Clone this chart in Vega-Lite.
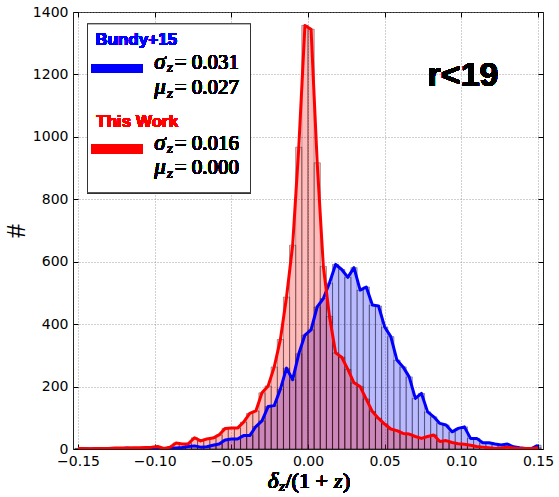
{
  "$schema": "https://vega.github.io/schema/vega-lite/v6.json",
  "width": 470,
  "height": 437,
  "autosize": "none",
  "padding": {"left": 73, "top": 12, "right": 16, "bottom": 48},
  "background": "white",
  "data": {
    "values": [
      {"dz": -0.150, "bundy": 0, "work": 2},
      {"dz": -0.146, "bundy": 1, "work": 2},
      {"dz": -0.142, "bundy": 0, "work": 1},
      {"dz": -0.138, "bundy": 1, "work": 2},
      {"dz": -0.134, "bundy": 2, "work": 2},
      {"dz": -0.130, "bundy": 1, "work": 2},
      {"dz": -0.126, "bundy": 0, "work": 3},
      {"dz": -0.122, "bundy": 1, "work": 3},
      {"dz": -0.118, "bundy": 3, "work": 3},
      {"dz": -0.114, "bundy": 1, "work": 4},
      {"dz": -0.110, "bundy": 1, "work": 4},
      {"dz": -0.106, "bundy": 2, "work": 5},
      {"dz": -0.102, "bundy": 2, "work": 6},
      {"dz": -0.098, "bundy": 2, "work": 8},
      {"dz": -0.094, "bundy": 0, "work": 2},
      {"dz": -0.090, "bundy": 3, "work": 6},
      {"dz": -0.086, "bundy": 3, "work": 19},
      {"dz": -0.082, "bundy": 5, "work": 16},
      {"dz": -0.078, "bundy": 8, "work": 17},
      {"dz": -0.074, "bundy": 10, "work": 36},
      {"dz": -0.070, "bundy": 6, "work": 26},
      {"dz": -0.066, "bundy": 7, "work": 32},
      {"dz": -0.062, "bundy": 12, "work": 35},
      {"dz": -0.058, "bundy": 16, "work": 45},
      {"dz": -0.054, "bundy": 29, "work": 66},
      {"dz": -0.050, "bundy": 32, "work": 67},
      {"dz": -0.046, "bundy": 32, "work": 67},
      {"dz": -0.042, "bundy": 43, "work": 86},
      {"dz": -0.038, "bundy": 43, "work": 114},
      {"dz": -0.034, "bundy": 72, "work": 122},
      {"dz": -0.030, "bundy": 90, "work": 180},
      {"dz": -0.026, "bundy": 136, "work": 202},
      {"dz": -0.022, "bundy": 139, "work": 263},
      {"dz": -0.018, "bundy": 192, "work": 351},
      {"dz": -0.014, "bundy": 259, "work": 487},
      {"dz": -0.010, "bundy": 222, "work": 653},
      {"dz": -0.006, "bundy": 305, "work": 967},
      {"dz": -0.002, "bundy": 365, "work": 1357},
      {"dz": 0.002, "bundy": 382, "work": 1345},
      {"dz": 0.006, "bundy": 455, "work": 917},
      {"dz": 0.010, "bundy": 482, "work": 585},
      {"dz": 0.014, "bundy": 532, "work": 425},
      {"dz": 0.018, "bundy": 591, "work": 308},
      {"dz": 0.022, "bundy": 575, "work": 294},
      {"dz": 0.026, "bundy": 550, "work": 255},
      {"dz": 0.030, "bundy": 581, "work": 212},
      {"dz": 0.034, "bundy": 509, "work": 200},
      {"dz": 0.038, "bundy": 519, "work": 160},
      {"dz": 0.042, "bundy": 461, "work": 120},
      {"dz": 0.046, "bundy": 458, "work": 98},
      {"dz": 0.050, "bundy": 391, "work": 80},
      {"dz": 0.054, "bundy": 360, "work": 64},
      {"dz": 0.058, "bundy": 285, "work": 59},
      {"dz": 0.062, "bundy": 263, "work": 50},
      {"dz": 0.066, "bundy": 231, "work": 48},
      {"dz": 0.070, "bundy": 162, "work": 40},
      {"dz": 0.074, "bundy": 178, "work": 34},
      {"dz": 0.078, "bundy": 119, "work": 40},
      {"dz": 0.082, "bundy": 103, "work": 45},
      {"dz": 0.086, "bundy": 82, "work": 24},
      {"dz": 0.090, "bundy": 77, "work": 27},
      {"dz": 0.094, "bundy": 55, "work": 21},
      {"dz": 0.098, "bundy": 66, "work": 17},
      {"dz": 0.102, "bundy": 71, "work": 15},
      {"dz": 0.106, "bundy": 34, "work": 12},
      {"dz": 0.110, "bundy": 34, "work": 8},
      {"dz": 0.114, "bundy": 20, "work": 6},
      {"dz": 0.118, "bundy": 20, "work": 4},
      {"dz": 0.122, "bundy": 16, "work": 2},
      {"dz": 0.126, "bundy": 13, "work": 3},
      {"dz": 0.130, "bundy": 16, "work": 6},
      {"dz": 0.134, "bundy": 7, "work": 3},
      {"dz": 0.138, "bundy": 4, "work": 2},
      {"dz": 0.142, "bundy": 2, "work": 2},
      {"dz": 0.146, "bundy": 2, "work": 2},
      {"dz": 0.150, "bundy": 12, "work": 4}
    ]
  },
  "layer": [
    {
      "layer": [
        {
          "mark": {"type": "bar", "orient": "vertical", "width": 6.27, "fill": "#0000ff", "fillOpacity": 0.27, "stroke": "#000000", "strokeOpacity": 0.35, "strokeWidth": 1, "clip": true},
          "encoding": {
            "x": {
              "field": "dz", "type": "quantitative",
              "scale": {"domain": [-0.15, 0.15], "nice": false, "zero": false},
              "axis": {"values": [-0.15, -0.1, -0.05, 0, 0.05, 0.1, 0.15], "format": ".2f", "title": null}
            },
            "y": {
              "field": "bundy", "type": "quantitative",
              "scale": {"domain": [0, 1400], "nice": false},
              "axis": {"values": [0, 200, 400, 600, 800, 1000, 1200, 1400], "format": "d", "title": "#", "titleFont": "Liberation Serif", "titleFontSize": 28, "titlePadding": 2}
            }
          }
        },
        {
          "mark": {"type": "bar", "orient": "vertical", "width": 6.27, "fill": "#ff0000", "fillOpacity": 0.27, "stroke": "#000000", "strokeOpacity": 0.35, "strokeWidth": 1, "clip": true},
          "encoding": {
            "x": {"field": "dz", "type": "quantitative"},
            "y": {"field": "work", "type": "quantitative"}
          }
        },
        {
          "mark": {"type": "line", "color": "#0000ff", "strokeWidth": 3, "strokeJoin": "round", "clip": true},
          "encoding": {
            "x": {"field": "dz", "type": "quantitative"},
            "y": {"field": "bundy", "type": "quantitative"}
          }
        },
        {
          "mark": {"type": "rect", "fill": "white", "stroke": "#333333", "strokeWidth": 1},
          "encoding": {
            "x": {"datum": -0.1438}, "x2": {"datum": -0.0375},
            "y": {"datum": 1362}, "y2": {"datum": 821}
          }
        },
        {
          "mark": {"type": "rule", "color": "#0000ff", "strokeWidth": 9},
          "encoding": {"x": {"datum": -0.1412}, "x2": {"datum": -0.1077}, "y": {"datum": 1219}}
        },
        {
          "mark": {"type": "rule", "color": "#ff0000", "strokeWidth": 9},
          "encoding": {"x": {"datum": -0.1412}, "x2": {"datum": -0.1077}, "y": {"datum": 960}}
        },
        {
          "mark": {"type": "text", "align": "left", "baseline": "middle", "font": "Liberation Sans", "fontWeight": "bold", "fontSize": 17, "fill": "#0000ff"},
          "encoding": {"x": {"datum": -0.1387}, "y": {"datum": 1310}, "text": {"value": "Bundy+15"}}
        },
        {
          "mark": {"type": "text", "align": "left", "baseline": "middle", "font": "Liberation Sans", "fontWeight": "bold", "fontSize": 17, "fill": "#ff0000"},
          "encoding": {"x": {"datum": -0.1381}, "y": {"datum": 1048}, "text": {"value": "This Work"}}
        },
        {
          "mark": {"type": "text", "align": "left", "baseline": "alphabetic", "font": "Liberation Serif", "fontStyle": "italic", "fontWeight": "normal", "fontSize": 23, "fill": "#000000"},
          "encoding": {"x": {"datum": -0.1002}, "y": {"datum": 1218}, "text": {"value": "σ"}}
        },
        {
          "mark": {"type": "text", "align": "left", "baseline": "alphabetic", "font": "Liberation Serif", "fontStyle": "italic", "fontWeight": "normal", "fontSize": 15, "fill": "#000000"},
          "encoding": {"x": {"datum": -0.0919}, "y": {"datum": 1207}, "text": {"value": "z"}}
        },
        {
          "mark": {"type": "text", "align": "left", "baseline": "alphabetic", "font": "Liberation Serif", "fontWeight": "normal", "fontSize": 21, "fill": "#000000"},
          "encoding": {"x": {"datum": -0.0869}, "y": {"datum": 1218}, "text": {"value": "= 0.031"}}
        },
        {
          "mark": {"type": "text", "align": "left", "baseline": "alphabetic", "font": "Liberation Serif", "fontStyle": "italic", "fontWeight": "normal", "fontSize": 23, "fill": "#000000"},
          "encoding": {"x": {"datum": -0.1002}, "y": {"datum": 1137}, "text": {"value": "μ"}}
        },
        {
          "mark": {"type": "text", "align": "left", "baseline": "alphabetic", "font": "Liberation Serif", "fontStyle": "italic", "fontWeight": "normal", "fontSize": 15, "fill": "#000000"},
          "encoding": {"x": {"datum": -0.0919}, "y": {"datum": 1126}, "text": {"value": "z"}}
        },
        {
          "mark": {"type": "text", "align": "left", "baseline": "alphabetic", "font": "Liberation Serif", "fontWeight": "normal", "fontSize": 21, "fill": "#000000"},
          "encoding": {"x": {"datum": -0.0869}, "y": {"datum": 1137}, "text": {"value": "= 0.027"}}
        },
        {
          "mark": {"type": "text", "align": "left", "baseline": "alphabetic", "font": "Liberation Serif", "fontStyle": "italic", "fontWeight": "normal", "fontSize": 23, "fill": "#000000"},
          "encoding": {"x": {"datum": -0.1002}, "y": {"datum": 959}, "text": {"value": "σ"}}
        },
        {
          "mark": {"type": "text", "align": "left", "baseline": "alphabetic", "font": "Liberation Serif", "fontStyle": "italic", "fontWeight": "normal", "fontSize": 15, "fill": "#000000"},
          "encoding": {"x": {"datum": -0.0919}, "y": {"datum": 948}, "text": {"value": "z"}}
        },
        {
          "mark": {"type": "text", "align": "left", "baseline": "alphabetic", "font": "Liberation Serif", "fontWeight": "normal", "fontSize": 21, "fill": "#000000"},
          "encoding": {"x": {"datum": -0.0869}, "y": {"datum": 959}, "text": {"value": "= 0.016"}}
        },
        {
          "mark": {"type": "text", "align": "left", "baseline": "alphabetic", "font": "Liberation Serif", "fontStyle": "italic", "fontWeight": "normal", "fontSize": 23, "fill": "#000000"},
          "encoding": {"x": {"datum": -0.1002}, "y": {"datum": 880}, "text": {"value": "μ"}}
        },
        {
          "mark": {"type": "text", "align": "left", "baseline": "alphabetic", "font": "Liberation Serif", "fontStyle": "italic", "fontWeight": "normal", "fontSize": 15, "fill": "#000000"},
          "encoding": {"x": {"datum": -0.0919}, "y": {"datum": 869}, "text": {"value": "z"}}
        },
        {
          "mark": {"type": "text", "align": "left", "baseline": "alphabetic", "font": "Liberation Serif", "fontWeight": "normal", "fontSize": 21, "fill": "#000000"},
          "encoding": {"x": {"datum": -0.0869}, "y": {"datum": 880}, "text": {"value": "= 0.000"}}
        },
        {
          "mark": {"type": "text", "align": "center", "baseline": "alphabetic", "font": "Liberation Sans", "fontWeight": "bold", "fontSize": 34, "fill": "#000000"},
          "encoding": {"x": {"datum": 0.1011}, "y": {"datum": 1162}, "text": {"value": "r<19"}}
        },
        {
          "mark": {"type": "text", "align": "left", "baseline": "alphabetic", "font": "Liberation Serif", "fontStyle": "italic", "fontWeight": "normal", "fontSize": 23, "fill": "#000000"},
          "encoding": {"x": {"datum": -0.0262}, "y": {"datum": -125}, "text": {"value": "δ"}}
        },
        {
          "mark": {"type": "text", "align": "left", "baseline": "alphabetic", "font": "Liberation Serif", "fontStyle": "italic", "fontWeight": "normal", "fontSize": 15, "fill": "#000000"},
          "encoding": {"x": {"datum": -0.0188}, "y": {"datum": -136}, "text": {"value": "z"}}
        },
        {
          "mark": {"type": "text", "align": "left", "baseline": "alphabetic", "font": "Liberation Serif", "fontWeight": "normal", "fontSize": 22, "fill": "#000000"},
          "encoding": {"x": {"datum": -0.0147}, "y": {"datum": -125}, "text": {"value": "/(1 + "}}
        },
        {
          "mark": {"type": "text", "align": "left", "baseline": "alphabetic", "font": "Liberation Serif", "fontStyle": "italic", "fontWeight": "normal", "fontSize": 22, "fill": "#000000"},
          "encoding": {"x": {"datum": 0.0170}, "y": {"datum": -125}, "text": {"value": "z"}}
        },
        {
          "mark": {"type": "text", "align": "left", "baseline": "alphabetic", "font": "Liberation Serif", "fontWeight": "normal", "fontSize": 22, "fill": "#000000"},
          "encoding": {"x": {"datum": 0.0228}, "y": {"datum": -125}, "text": {"value": ")"}}
        }
      ]
    },
    {
      "mark": {"type": "line", "color": "#ff0000", "strokeWidth": 3, "strokeJoin": "round", "clip": true},
      "encoding": {
        "x": {
          "field": "dz", "type": "quantitative",
          "axis": {"orient": "top", "values": [-0.15, -0.1, -0.05, 0, 0.05, 0.1, 0.15], "labels": false, "grid": false, "domain": false, "title": null}
        },
        "y": {
          "field": "work", "type": "quantitative",
          "axis": {"orient": "right", "values": [0, 200, 400, 600, 800, 1000, 1200, 1400], "labels": false, "grid": false, "domain": false, "title": null}
        }
      }
    }
  ],
  "resolve": {"axis": {"x": "independent", "y": "independent"}},
  "config": {
    "view": {"stroke": "#222222", "strokeWidth": 1},
    "axis": {
      "labelFont": "DejaVu Sans",
      "labelFontSize": 14,
      "labelColor": "#000000",
      "tickColor": "#000000",
      "tickSize": -5,
      "labelPadding": 10,
      "domainColor": "#222222",
      "gridColor": "#888888",
      "gridDash": [1, 2],
      "gridWidth": 0.8,
      "titleFont": "DejaVu Serif",
      "titleFontWeight": "normal",
      "titleColor": "#000000"
    }
  }
}
